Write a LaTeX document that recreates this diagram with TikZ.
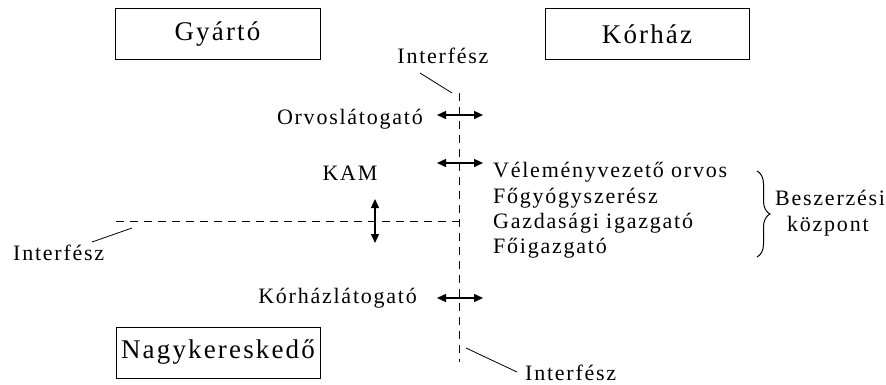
\documentclass[tikz,border=0pt]{standalone}
\usepackage{fontspec}
\setmainfont{Liberation Serif}[LetterSpace=8]
\usetikzlibrary{arrows.meta,decorations.pathreplacing}
\begin{document}
\begin{tikzpicture}[x=1pt,y=-1pt,
  box/.style={draw,line width=1pt,inner sep=0pt,font=\fontsize{27}{30}\selectfont},
  lbl/.style={inner sep=0pt,font=\fontsize{22}{25}\selectfont},
  ifline/.style={line width=1pt,dash pattern=on 8pt off 6pt},
  leader/.style={line width=0.8pt},
  dbl/.style={line width=1.4pt,{Triangle[length=9pt,width=8pt]}-{Triangle[length=9pt,width=8pt]}}]
\useasboundingbox (0,0) rectangle (886,385);
% boxes
\node[box,minimum width=205pt,minimum height=51pt] (gy) at (217.5,34.5) {Gyártó};
\node[box,minimum width=204pt,minimum height=51pt] (kor) at (647,34.5) {Kórház};
\node[box,minimum width=204pt,minimum height=51pt] (nagy) at (218,352.5) {Nagykereskedő};
% interface labels
\node[lbl,anchor=base] (itop) at (443,64) {Interfész};
\node[lbl,anchor=base west] (ileft) at (13,260) {Interfész};
\node[lbl,anchor=base west] (ibot) at (525,380) {Interfész};
% actors
\node[lbl,anchor=base east] (orv) at (423,125) {Orvoslátogató};
\node[lbl,anchor=base] (kam) at (350,180) {KAM};
\node[lbl,anchor=base east] (korl) at (417,303) {Kórházlátogató};
% hospital roles
\node[lbl,anchor=base west] (l1) at (493,178) {Véleményvezető orvos};
\node[lbl,anchor=base west] (l2) at (493,203) {Főgyógyszerész};
\node[lbl,anchor=base west] (l3) at (493,228) {Gazdasági igazgató};
\node[lbl,anchor=base west] (l4) at (493,253) {Főigazgató};
\node[lbl,anchor=base west] (b1) at (775,205) {Beszerzési};
\node[lbl,anchor=base west] (b2) at (787,231) {központ};
% interface lines
\coordinate (vt) at (459,93);
\coordinate (vb) at (459,362);
\coordinate (hl) at (116,221);
\coordinate (hr) at (459,221);
\draw[ifline] (vt) -- (vb);
\draw[ifline] (hl) -- (hr);
% leader lines
\coordinate (lt1) at (420,73); \coordinate (lt2) at (452,93);
\coordinate (ll1) at (92,242); \coordinate (ll2) at (132,228);
\coordinate (lb1) at (466,348); \coordinate (lb2) at (517,372);
\draw[leader] (lt1) -- (lt2);
\draw[leader] (ll1) -- (ll2);
\draw[leader] (lb1) -- (lb2);
% arrows
\coordinate (a1l) at (437,115); \coordinate (a1r) at (483,115);
\coordinate (a2l) at (437,163); \coordinate (a2r) at (483,163);
\coordinate (a3l) at (437,298); \coordinate (a3r) at (483,298);
\coordinate (a4t) at (375,199); \coordinate (a4b) at (375,243);
\draw[dbl] (a1l) -- (a1r);
\draw[dbl] (a2l) -- (a2r);
\draw[dbl] (a3l) -- (a3r);
\draw[dbl] (a4t) -- (a4b);
% brace
\coordinate (bt) at (757,171);
\coordinate (bb) at (757,257);
\draw[line width=1pt,decorate,decoration={brace,amplitude=13pt}] (bt) -- (bb);
\end{tikzpicture}
\end{document}
